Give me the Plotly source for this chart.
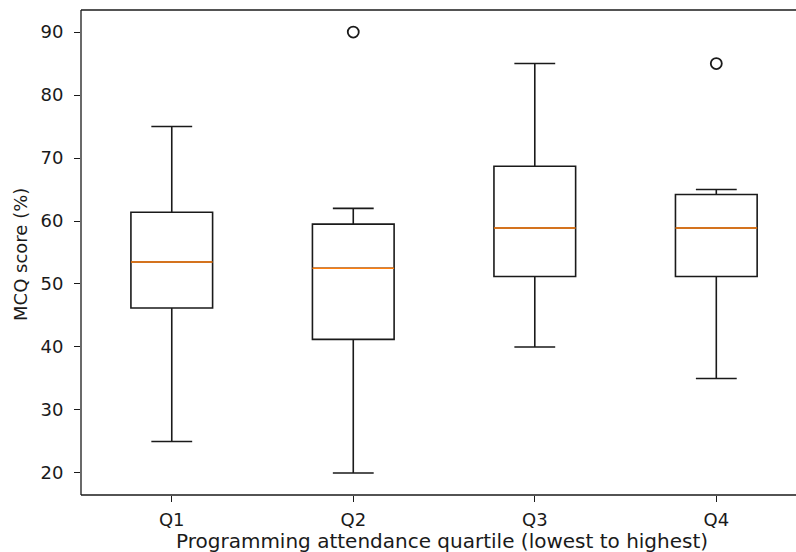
import plotly.graph_objects as go

categories = ["Q1", "Q2", "Q3", "Q4"]
positions = [1, 2, 3, 4]
lower_whisker = [25, 20, 40, 35]
q1_vals = [46.2, 41.2, 51.2, 51.2]
medians = [53.5, 52.5, 58.9, 58.9]
q3_vals = [61.4, 59.5, 68.7, 64.2]
upper_whisker = [75, 62, 85, 65]
outlier_pos = [2, 4]
outlier_vals = [90, 85]
y_ticks = [20, 30, 40, 50, 60, 70, 80, 90]

FONT = "DejaVu Sans"
INK = "#1a1a1a"

fig = go.Figure()

fig.add_trace(go.Box(
    x=positions, q1=q1_vals, median=medians, q3=q3_vals,
    lowerfence=lower_whisker, upperfence=upper_whisker,
    width=0.45, whiskerwidth=0.5,
    line=dict(color=INK, width=1.6),
    fillcolor="rgba(0,0,0,0)", boxpoints=False,
    showlegend=False, hoverinfo="skip",
))

fig.add_trace(go.Box(
    x=positions, q1=medians, median=medians, q3=medians,
    lowerfence=medians, upperfence=medians,
    width=0.45, whiskerwidth=0.5,
    line=dict(color="#ff7f0e", width=1.6),
    fillcolor="rgba(0,0,0,0)", boxpoints=False,
    showlegend=False, hoverinfo="skip",
))

fig.add_trace(go.Scatter(
    x=outlier_pos, y=outlier_vals, mode="markers",
    marker=dict(symbol="circle-open", size=11, color=INK,
                line=dict(width=1.8, color=INK)),
    showlegend=False, hoverinfo="skip",
))

frame = dict(type="line", xref="paper", yref="paper",
             line=dict(color=INK, width=1.3), layer="above")

fig.update_layout(
    width=796, height=552,
    margin=dict(l=81, r=6, t=10, b=57),
    paper_bgcolor="white", plot_bgcolor="white",
    boxmode="overlay",
    font=dict(family=FONT, size=18, color=INK),
    shapes=[
        dict(frame, x0=0, x1=0, y0=0, y1=1),
        dict(frame, x0=0, x1=1.0085, y0=1, y1=1),
        dict(frame, x0=0, x1=1.0085, y0=0, y1=0),
    ],
    annotations=[
        dict(text="Programming attendance quartile (lowest to highest)",
             xref="paper", yref="paper", x=0.509, y=-0.0948,
             xanchor="center", yanchor="middle", showarrow=False,
             font=dict(family=FONT, size=20, color=INK)),
        dict(text="MCQ score (%)", textangle=-90,
             xref="paper", yref="paper", x=-0.0846, y=0.495,
             xanchor="center", yanchor="middle", showarrow=False,
             font=dict(family=FONT, size=18, color=INK)),
    ],
)

fig.update_xaxes(
    range=[0.5, 4.406], tickvals=positions, ticktext=categories,
    showgrid=False, zeroline=False, showline=False,
    ticks="outside", ticklen=6, tickwidth=1.3, tickcolor=INK,
    tickfont=dict(family=FONT, size=18, color=INK),
    ticklabelstandoff=2,
    automargin=False,
)

fig.update_yaxes(
    range=[16.5, 93.5], tickvals=y_ticks,
    showgrid=False, zeroline=False, showline=False,
    ticks="outside", ticklen=6, tickwidth=1.3, tickcolor=INK,
    tickfont=dict(family=FONT, size=18, color=INK),
    ticklabelstandoff=7,
    automargin=False,
)

fig.write_html("out.html")
